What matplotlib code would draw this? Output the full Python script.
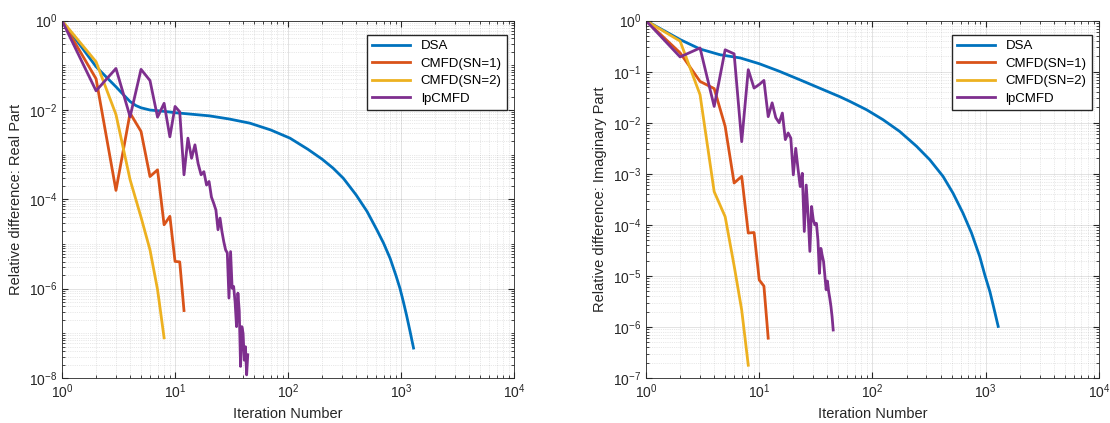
import numpy as np
import matplotlib
matplotlib.use('Agg')
import matplotlib.pyplot as plt
from matplotlib.ticker import LogLocator, NullFormatter

plt.rcParams['font.family'] = ['Liberation Sans', 'DejaVu Sans']
plt.rcParams['mathtext.default'] = 'regular'

labels = ['DSA', 'CMFD(SN=1)', 'CMFD(SN=2)', 'lpCMFD']
colors = ['#0072BD', '#D95319', '#EDB120', '#7E2F8E']

# ---- Real part (log10 of values) ----
dsa_re_it = [1, 2, 3, 3.5, 4, 4.5, 5, 6, 8, 10, 20, 30, 46, 70, 104, 150, 200, 250, 309, 400,
             500, 610, 700, 800, 900, 980, 1050, 1120, 1200, 1290]
dsa_re_lg = [0, -1.03, -1.48, -1.66, -1.81, -1.9, -1.95, -2.0, -2.03, -2.06, -2.13, -2.2, -2.295,
             -2.445, -2.63, -2.88, -3.10, -3.30, -3.53, -3.90, -4.27, -4.68, -4.98, -5.32,
             -5.70, -6.0, -6.3, -6.6, -6.95, -7.33]

sn1_re_it = [1, 2, 3, 4, 5, 6, 7, 8, 9, 10, 11, 12]
sn1_re_lg = [0, -1.30, -3.80, -2.07, -2.48, -3.49, -3.34, -4.57, -4.38, -5.39, -5.40, -6.49]

sn2_re_it = [1, 2, 3, 4, 5, 6, 7, 8]
sn2_re_lg = [0, -0.92, -2.1, -3.56, -4.4, -5.13, -6.02, -7.1]

lp_re_it = list(range(1, 45))
lp_re_lg = [0, -1.57, -1.07, -2.15, -1.09, -1.34, -2.16, -1.85, -2.6, -1.92,
            -2.04, -3.45, -2.63, -3.08, -2.78, -3.2, -3.45, -3.38, -3.68, -3.60,
            -3.95, -4.09, -4.24, -4.68, -4.42, -4.72, -4.95, -5.13, -5.2, -6.21,
            -5.17, -5.99, -5.95, -6.3, -6.85, -6.10, -6.5, -7.74, -6.85, -7.0,
            -7.6, -7.3, -7.93, -7.48]

# ---- Imaginary part ----
dsa_im_it = [1, 2, 3, 4.5, 6.8, 10, 15, 22.8, 34, 51.6, 63, 88.7, 124, 174, 245, 321, 420, 515,
             630, 750, 886, 982, 1090, 1178, 1290]
dsa_im_lg = [0, -0.37, -0.555, -0.667, -0.73, -0.843, -0.99, -1.157, -1.32, -1.49, -1.58, -1.745,
             -1.94, -2.17, -2.46, -2.725, -3.05, -3.38, -3.77, -4.16, -4.62, -4.98, -5.31,
             -5.62, -5.99]

sn1_im_it = [1, 2, 3, 4, 5, 6, 7, 8, 9, 10, 11, 12]
sn1_im_lg = [0, -0.63, -1.19, -1.33, -2.07, -3.18, -3.05, -4.16, -4.15, -5.08, -5.2, -6.22]

sn2_im_it = [1, 2, 3, 4, 5, 6, 7, 8]
sn2_im_lg = [0, -0.40, -1.45, -3.35, -3.84, -4.8, -5.67, -6.75]

lp_im_it = list(range(1, 46))
lp_im_lg = [0, -0.71, -0.535, -1.68, -0.57, -0.65, -2.37, -0.96, -1.32, -1.25,
            -1.17, -1.88, -1.61, -1.9, -2.0, -1.81, -2.33, -2.2, -2.3, -3.02,
            -2.5, -2.9, -3.25, -2.99, -4.13, -3.22, -3.8, -4.52, -3.64, -3.9,
            -4.0, -3.97, -4.3, -4.95, -4.46, -4.6, -4.72, -5.0, -5.27, -5.1,
            -5.3, -5.44, -5.6, -5.8, -6.06]

fig = plt.figure(figsize=(11.1, 4.23), dpi=100)
ax1 = fig.add_axes([0.0559, 0.1064, 0.4072, 0.8447])
ax2 = fig.add_axes([0.582, 0.1064, 0.408, 0.8447])

tc = '#262626'


def style(ax, ylo, step, ylabel):
    ax.set_xscale('log')
    ax.set_yscale('log')
    ax.set_xlim(1, 1e4)
    ax.set_ylim(10.0 ** ylo, 1)
    ax.set_xticks([10.0 ** k for k in range(0, 5)])
    ax.set_xticklabels(['$10^{%d}$' % k for k in range(0, 5)])
    yt = list(range(ylo, 1, step))
    ax.set_yticks([10.0 ** k for k in yt])
    ax.set_yticklabels(['$10^{%d}$' % k for k in yt])
    ax.xaxis.set_minor_locator(LogLocator(base=10, subs=np.arange(2, 10), numticks=50))
    ax.yaxis.set_minor_locator(LogLocator(base=10, subs=np.arange(1, 10), numticks=50))
    ax.xaxis.set_minor_formatter(NullFormatter())
    ax.yaxis.set_minor_formatter(NullFormatter())
    ax.tick_params(which='both', direction='in', top=True, right=True, colors=tc, labelsize=10)
    ax.tick_params(which='major', length=4)
    ax.tick_params(which='minor', length=2)
    ax.grid(True, which='major', color=tc, alpha=0.15, lw=0.6)
    ax.grid(True, which='minor', color=tc, alpha=0.2, lw=0.5, ls=':')
    for s in ax.spines.values():
        s.set_color(tc)
        s.set_linewidth(0.6)
    ax.set_xlabel('Iteration Number', fontsize=10.5, color=tc)
    ax.set_ylabel(ylabel, fontsize=10.5, color=tc)
    w = ax.get_position().width * 1110
    h = ax.get_position().height * 423
    ax.legend(loc='upper right', bbox_to_anchor=(1 - 7 / w, 1 - 14 / h), borderaxespad=0,
              fontsize=9.5, fancybox=False, framealpha=1, edgecolor=tc,
              handlelength=2.9, labelspacing=0.4)


series_re = [(dsa_re_it, dsa_re_lg), (sn1_re_it, sn1_re_lg), (sn2_re_it, sn2_re_lg), (lp_re_it, lp_re_lg)]
series_im = [(dsa_im_it, dsa_im_lg), (sn1_im_it, sn1_im_lg), (sn2_im_it, sn2_im_lg), (lp_im_it, lp_im_lg)]

for (it, lg), c, lab in zip(series_re, colors, labels):
    ax1.plot(it, 10.0 ** np.array(lg), color=c, lw=2, label=lab)
for (it, lg), c, lab in zip(series_im, colors, labels):
    ax2.plot(it, 10.0 ** np.array(lg), color=c, lw=2, label=lab)

style(ax1, -8, 2, 'Relative difference: Real Part')
style(ax2, -7, 1, 'Relative difference: Imaginary Part')

fig.savefig('out.png', dpi=100)
